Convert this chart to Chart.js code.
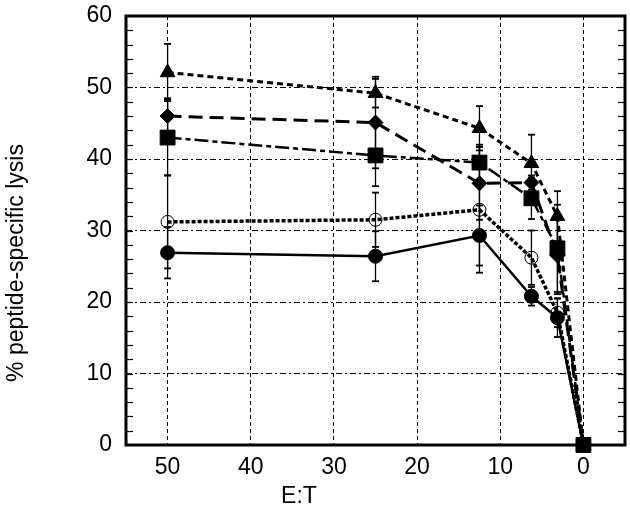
<!DOCTYPE html>
<html><head><meta charset="utf-8">
<script src="https://cdn.jsdelivr.net/npm/chart.js@4"></script>
<style>html,body{margin:0;padding:0;background:#fff}#wrap{width:630px;height:516px;position:relative}</style>
</head><body><div id="wrap"><canvas id="c" width="630" height="516"></canvas></div>
<script>
const ratios = [50, 25, 12.5, 6.25, 3.125, 0];
const xTickValues = [50, 40, 30, 20, 10, 0];
const yTickValues = [0, 10, 20, 30, 40, 50, 60];
const triangleVals = [52.1, 49.2, 44.3, 39.4, 32.0, 0];
const triangleErr = [4.0, 2.0, 3.1, 4.0, 3.5, 0];
const diamondVals = [46.0, 45.1, 36.6, 36.7, 26.5, 0];
const diamondErr = [2.5, 6.4, 5.1, 1.0, 5.4, 0];
const squareVals = [43.0, 40.5, 39.5, 34.5, 27.5, 0];
const squareErr = [5.3, 4.3, 2.5, 2.9, 6.1, 0];
const openCircleVals = [31.2, 31.5, 32.9, 26.2, 18.5, 0];
const openCircleErr = [6.5, 3.8, 8.8, 3.8, 2.0, 0];
const filledCircleVals = [26.9, 26.4, 29.3, 20.8, 17.8, 0];
const filledCircleErr = [3.6, 3.5, 4.2, 1.3, 2.7, 0];
const xTitle = 'E:T';
const yTitle = '% peptide-specific lysis';

const FAMILY = "'Liberation Sans', Arial, sans-serif";
const pts = vals => vals.map((v, i) => ({x: ratios[i], y: v}));
const errorSets = [
  [triangleVals, triangleErr], [diamondVals, diamondErr], [squareVals, squareErr],
  [openCircleVals, openCircleErr], [filledCircleVals, filledCircleErr]
];

const decor = {
  id: 'decor',
  beforeDatasetsDraw(chart) {
    const {ctx, scales: {x, y}} = chart;
    ctx.save();
    ctx.strokeStyle = '#000';
    const seg = (a, b, c, d) => { ctx.beginPath(); ctx.moveTo(a, b); ctx.lineTo(c, d); ctx.stroke(); };
    errorSets.forEach(([vals, errs]) => {
      vals.forEach((v, i) => {
        const e = errs[i];
        if (!e) return;
        const px = x.getPixelForValue(ratios[i]);
        const pt = y.getPixelForValue(v + e), pb = y.getPixelForValue(v - e);
        ctx.lineWidth = 1.3; seg(px, pt, px, pb);
        ctx.lineWidth = 1.8; seg(px - 3.5, pt, px + 3.5, pt); seg(px - 3.5, pb, px + 3.5, pb);
      });
    });
    ctx.restore();
  },
  afterDraw(chart) {
    const {ctx, chartArea: a, scales: {y}} = chart;
    ctx.save();
    ctx.strokeStyle = '#000';
    ctx.lineWidth = 1.2;
    for (let v = y.min + 2; v < y.max; v += 2) {
      const py = Math.round(y.getPixelForValue(v)) + 0.5;
      ctx.beginPath(); ctx.moveTo(a.left, py); ctx.lineTo(a.left + 7, py); ctx.stroke();
      ctx.beginPath(); ctx.moveTo(a.right, py); ctx.lineTo(a.right - 7, py); ctx.stroke();
    }
    ctx.lineWidth = 3;
    ctx.strokeRect(a.left, a.top, a.right - a.left, a.bottom - a.top);
    ctx.fillStyle = '#000';
    ctx.font = '23px ' + FAMILY;
    ctx.textAlign = 'center';
    ctx.textBaseline = 'middle';
    ctx.fillText(xTitle, 299, 497);
    ctx.translate(17, 263);
    ctx.rotate(-Math.PI / 2);
    ctx.fillText(yTitle, 0, 0);
    ctx.restore();
  }
};

const common = {showLine: true, clip: false, borderColor: '#000', pointBorderColor: '#000', pointBackgroundColor: '#000', pointBorderWidth: 1, tension: 0};

new Chart(document.getElementById('c'), {
  type: 'scatter',
  data: {
    datasets: [
      {...common, label: 'square', data: pts(squareVals), pointStyle: 'rect', pointRadius: 10.5, borderWidth: 2.5, borderDash: [14, 4, 5, 4]},
      {...common, label: 'triangle', data: pts(triangleVals), pointStyle: 'triangle', pointRadius: 8.5, borderWidth: 3, borderDash: [6, 4]},
      {...common, label: 'diamond', data: pts(diamondVals), pointStyle: 'rectRot', pointRadius: 7.5, borderWidth: 3, borderDash: [14, 7]},
      {...common, label: 'filled circle', data: pts(filledCircleVals), pointStyle: 'circle', pointRadius: 7, borderWidth: 2.5},
      {...common, label: 'open circle', data: pts(openCircleVals), pointStyle: 'circle', pointRadius: 6.5, pointBackgroundColor: 'rgba(0,0,0,0)', borderWidth: 3.5, borderDash: [4, 2]}
    ]
  },
  options: {
    responsive: false,
    animation: false,
    events: [],
    layout: {autoPadding: false, padding: {top: 16, right: 5, left: 0, bottom: 0}},
    plugins: {legend: {display: false}, tooltip: {enabled: false}},
    scales: {
      x: {
        type: 'linear', min: -5, max: 55, reverse: true,
        afterBuildTicks: s => { s.ticks = xTickValues.map(v => ({value: v})); },
        afterFit: s => { s.height = 71; s.paddingLeft = 0; s.paddingRight = 0; },
        grid: {color: '#000', lineWidth: 1, drawTicks: false},
        border: {display: false, dash: [4, 3]},
        ticks: {color: '#000', padding: 9, font: {size: 23, family: FAMILY}}
      },
      y: {
        type: 'linear', min: 0, max: 60,
        afterBuildTicks: s => { s.ticks = yTickValues.map(v => ({value: v})); },
        afterFit: s => { s.width = 126; s.paddingTop = 0; s.paddingBottom = 0; },
        grid: {color: '#000', lineWidth: 1, drawTicks: false},
        border: {display: false, dash: [6, 3, 2, 3]},
        ticks: {color: '#000', padding: 14, font: {size: 23, family: FAMILY}}
      }
    }
  },
  plugins: [decor]
});
</script>
</body></html>
